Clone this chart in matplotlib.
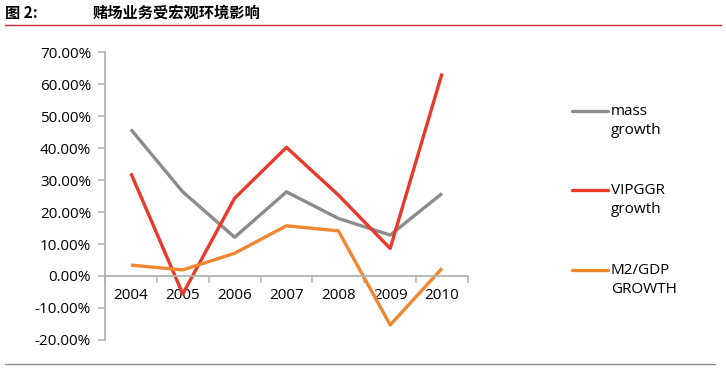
import numpy as np
import matplotlib.pyplot as plt
from matplotlib.lines import Line2D

plt.rcParams['font.family'] = ['Open Sans', 'DejaVu Sans']

# data
years = ['2004', '2005', '2006', '2007', '2008', '2009', '2010']
mass_growth = [45.8, 26.3, 12.1, 26.3, 18.0, 12.8, 25.8]
vipggr_growth = [32.1, -5.6, 24.3, 40.2, 25.3, 8.6, 63.3]
m2_gdp_growth = [3.4, 1.9, 7.1, 15.7, 14.1, -15.3, 2.4]
yticks = [-20, -10, 0, 10, 20, 30, 40, 50, 60, 70]
series_labels = ['mass\ngrowth', 'VIPGGR\ngrowth', 'M2/GDP\nGROWTH']

c_mass = '#8c8c8c'
c_vip = '#e8392c'
c_m2 = '#ef8731'
colors = [c_mass, c_vip, c_m2]

W, H = 726, 373
fig = plt.figure(figsize=(W / 100, H / 100), dpi=100)
ax = fig.add_axes([0.1446, 0.0885, 0.5, 0.772])

x = np.arange(len(years))
for vals, c in zip([mass_growth, vipggr_growth, m2_gdp_growth], colors):
    ax.plot(x, np.array(vals) / 100, color=c, lw=2.4, solid_capstyle='butt')

ax.set_xlim(-0.5, 6.5)
ax.set_ylim(-0.2, 0.7)

# spines
for s in ['top', 'right']:
    ax.spines[s].set_visible(False)
ax.spines['left'].set_color('#b3b3b3')
ax.spines['left'].set_linewidth(1.3)
ax.spines['bottom'].set_position(('data', 0))
ax.spines['bottom'].set_color('#b3b3b3')
ax.spines['bottom'].set_linewidth(1.3)

ax.set_yticks([v / 100 for v in yticks])
ax.set_yticklabels([f'{v:.2f}%' for v in yticks], fontsize=11)
ax.tick_params(axis='y', direction='out', length=5, width=1.2, color='#b3b3b3', pad=5)

# x ticks at category boundaries, labels at centres
ax.set_xticks(np.arange(-0.5, 7, 1))
ax.set_xticklabels([])
ax.tick_params(axis='x', which='major', direction='out', length=5, width=1.2, color='#b3b3b3')
ax.set_xticks(x, minor=True)
ax.set_xticklabels(years, minor=True, fontsize=11)
ax.tick_params(axis='x', which='minor', length=0, pad=9)

# legend drawn by hand at the right side
leg_y = [111, 190, 270]
for yy, c, lab in zip(leg_y, colors, series_labels):
    fy = 1 - yy / H
    fig.add_artist(Line2D([572 / W, 608 / W], [fy, fy], color=c, lw=2.4,
                          solid_capstyle='round'))
    fig.text(611 / W, 1 - (yy - 7) / H, lab, fontsize=11, va='top', ha='left',
             linespacing=1.4)

# title and rules
fig.text(0.007, 0.965, '图 2:', fontsize=11, fontweight='bold', va='center',
         family=['Noto Sans CJK SC', 'DejaVu Sans'])
fig.text(0.127, 0.965, '赌场业务受宏观环境影响', fontsize=11, fontweight='bold', va='center',
         family=['Noto Sans CJK SC', 'DejaVu Sans'])
fig.add_artist(Line2D([0.007, 0.993], [0.933, 0.933], color='#c8262a', lw=1.0))
fig.add_artist(Line2D([0.007, 0.985], [0.024, 0.024], color='#8c8c8c', lw=1.0))

fig.savefig('out.png', dpi=100)
